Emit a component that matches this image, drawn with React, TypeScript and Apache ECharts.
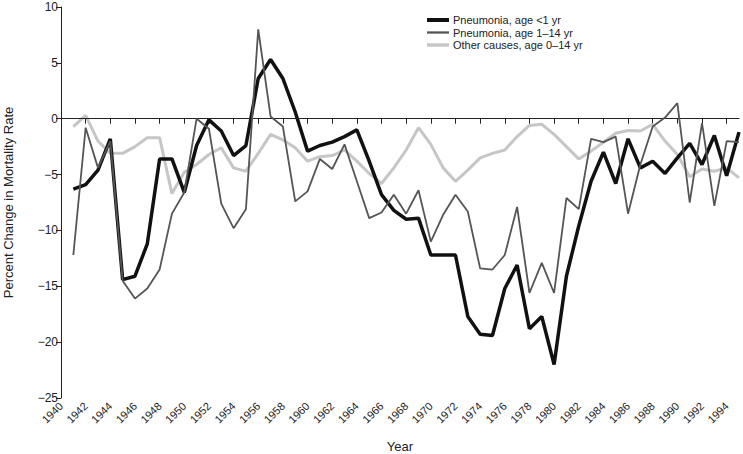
import React, { useEffect, useRef } from "react";
import * as echarts from "echarts";

const years: string[] = [];
for (let y = 1940; y <= 1995; y++) years.push(String(y));

// values for 1941..1995 (1940 has no value)
const infant = [
  -6.3, -5.9, -4.6, -1.8, -14.4, -14.1, -11.2, -3.6, -3.6, -6.6,
  -2.4, -0.1, -1.1, -3.3, -2.4, 3.6, 5.3, 3.6, 0.6, -2.9,
  -2.4, -2.1, -1.6, -1.0, -3.8, -6.8, -8.2, -9.0, -8.9, -12.2,
  -12.2, -12.2, -17.7, -19.3, -19.4, -15.2, -13.1, -18.8, -17.7, -22.0,
  -14.1, -9.6, -5.6, -3.0, -5.8, -1.8, -4.4, -3.8, -4.9, -3.5,
  -2.2, -4.1, -1.5, -5.1, -1.2,
];
const child = [
  -12.2, -0.8, -4.4, -2.0, -14.5, -16.1, -15.2, -13.5, -8.5, -6.6,
  0.0, -0.9, -7.6, -9.8, -8.1, 8.0, 0.2, -0.7, -7.4, -6.5,
  -3.6, -4.5, -2.3, -5.6, -8.9, -8.4, -6.8, -8.5, -6.4, -11.0,
  -8.6, -6.8, -8.3, -13.4, -13.5, -12.2, -7.9, -15.6, -12.9, -15.6,
  -7.1, -8.1, -1.8, -2.1, -1.6, -8.5, -4.1, -0.7, 0.1, 1.4,
  -7.5, -0.4, -7.8, -2.0, -2.1,
];
const other = [
  -0.7, 0.3, -2.0, -3.1, -3.1, -2.5, -1.7, -1.7, -6.7, -4.8,
  -4.1, -3.2, -2.6, -4.4, -4.7, -3.1, -1.4, -1.9, -2.6, -3.8,
  -3.4, -3.3, -2.8, -3.8, -4.9, -5.8, -4.4, -2.8, -0.8, -2.3,
  -4.4, -5.6, -4.6, -3.5, -3.1, -2.8, -1.6, -0.6, -0.5, -1.4,
  -2.5, -3.6, -2.9, -2.1, -1.3, -1.05, -1.1, -0.5, -2.0, -3.2,
  -5.2, -4.5, -4.7, -4.4, -5.3,
];

const seriesNames = [
  "Pneumonia, age <1 yr",
  "Pneumonia, age 1\u201314 yr",
  "Other causes, age 0\u201314 yr",
];
const seriesColors = ["#111111", "#555555", "#c6c6c6"];
const seriesWidths = [3.5, 1.8, 3];

const FONT = "Liberation Sans, Arial, Helvetica, sans-serif";

export default function App() {
  const ref = useRef<HTMLDivElement>(null);
  useEffect(() => {
    if (!ref.current) return;
    const chart = echarts.init(ref.current, null, { renderer: "svg" });
    const pad = (a: number[]) => [null, ...a];
    const legendEls: any[] = [];
    seriesNames.forEach((n, i) => {
      const y = 20 + i * 12.5;
      legendEls.push({
        type: "line",
        shape: { x1: 427, y1: y, x2: 449, y2: y },
        style: { stroke: seriesColors[i], lineWidth: seriesWidths[i] + 0.5 },
      });
      legendEls.push({
        type: "text",
        x: 453,
        y,
        style: {
          text: n,
          fill: "#222",
          font: `11px ${FONT}`,
          verticalAlign: "middle",
        },
      });
    });
    chart.setOption({
      animation: false,
      backgroundColor: "#ffffff",
      color: seriesColors,
      textStyle: { fontFamily: FONT },
      grid: { left: 61, right: 4, top: 7, bottom: 56, outerBoundsMode: "none", containLabel: false },
      graphic: legendEls,
      xAxis: {
        type: "category",
        data: years,
        boundaryGap: false,
        name: "Year",
        nameLocation: "middle",
        nameGap: 42,
        nameTextStyle: { fontSize: 13, color: "#222" },
        axisLine: { show: true, lineStyle: { color: "#222", width: 1 } },
        axisTick: { show: true, interval: 1, length: 5, lineStyle: { color: "#222" } },
        axisLabel: {
          interval: 1,
          rotate: 45,
          fontSize: 11,
          color: "#222222",
          margin: 6,
        },
        splitLine: { show: false },
      },
      yAxis: {
        type: "value",
        min: -25,
        max: 10,
        interval: 5,
        name: "Percent Change in Mortality Rate",
        nameLocation: "middle",
        nameGap: 46,
        nameTextStyle: { fontSize: 13, color: "#222" },
        axisLine: { show: true, lineStyle: { color: "#222", width: 1 } },
        axisTick: { show: true, length: 5, lineStyle: { color: "#222" } },
        axisLabel: {
          fontSize: 12,
          color: "#222",
          margin: 3,
          formatter: (v: number) => String(v).replace("-", "\u2212"),
        },
        splitLine: { show: false },
      },
      series: [
        {
          name: seriesNames[0],
          type: "line",
          data: pad(infant),
          symbol: "none",
          z: 4,
          color: seriesColors[0],
          lineStyle: { color: seriesColors[0], width: seriesWidths[0] },
          markLine: {
            silent: true,
            symbol: "none",
            label: { show: false },
            lineStyle: { color: "#222", width: 1, type: "solid" },
            data: [{ yAxis: 0 }],
          },
        },
        {
          name: seriesNames[1],
          type: "line",
          data: pad(child),
          symbol: "none",
          z: 5,
          color: seriesColors[1],
          lineStyle: { color: seriesColors[1], width: seriesWidths[1] },
        },
        {
          name: seriesNames[2],
          type: "line",
          data: pad(other),
          symbol: "none",
          z: 3,
          color: seriesColors[2],
          lineStyle: { color: seriesColors[2], width: seriesWidths[2] },
        },
      ],
    });
    return () => chart.dispose();
  }, []);
  return (
    <div
      ref={ref}
      style={{ position: "fixed", left: 0, top: 0, width: 743, height: 454, background: "#fff" }}
    />
  );
}
